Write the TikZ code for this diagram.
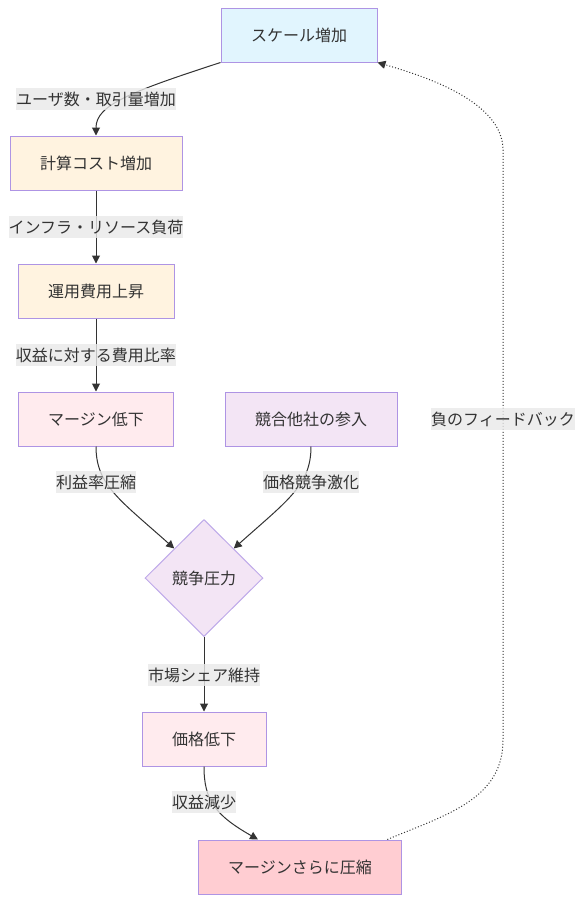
\documentclass[tikz,border=0pt]{standalone}
\usepackage{fontspec}
\setmainfont{Noto Sans CJK JP}
\usepackage{xcolor}
\definecolor{mcink}{HTML}{333333}
\definecolor{mcedge}{HTML}{333333}
\definecolor{mcrule}{HTML}{9370DB}
\definecolor{mclblbg}{HTML}{E8E8E8}
\definecolor{mcblue}{HTML}{E1F5FE}
\definecolor{mcorange}{HTML}{FFF3E0}
\definecolor{mcpink}{HTML}{FFEBEE}
\definecolor{mcviolet}{HTML}{F3E5F5}
\definecolor{mcred}{HTML}{FFCDD2}
\usepackage{tikz}
\usetikzlibrary{arrows.meta,calc,shapes.geometric}
\tikzset{
  mcbox/.style    ={rectangle, draw=mcrule!75, line width=1pt, minimum height=54pt,
                    inner xsep=30pt, inner ysep=0pt, text=mcink,
                    font=\fontsize{16pt}{19pt}\selectfont},
  mcscale/.style  ={mcbox, fill=mcblue},
  mccost/.style   ={mcbox, fill=mcorange},
  mcmargin/.style ={mcbox, fill=mcpink},
  mcrival/.style  ={mcbox, fill=mcviolet},
  mcsqueeze/.style={mcbox, fill=mcred},
  mcpress/.style  ={diamond, draw=mcrule!60, fill=mcviolet, line width=1pt,
                    minimum width=118pt, minimum height=117pt, inner sep=0pt,
                    text=mcink, font=\fontsize{16pt}{19pt}\selectfont},
  mcarrow/.style  ={-{Triangle[length=8pt,width=8pt]}, line width=1pt, draw=mcedge},
  mcloop/.style   ={mcarrow, dotted},
  mclbl/.style    ={fill=mclblbg, fill opacity=0.8, text opacity=1, text=mcink,
                    inner xsep=0pt, inner ysep=0pt, minimum height=22pt,
                    font=\fontsize{16pt}{19pt}\selectfont},
}
\begin{document}
\begin{tikzpicture}[x=1pt,y=-1pt]
  \useasboundingbox (0,0) rectangle (583,902);
  % chain on the left
  \node[mcscale]   (scale)   at (299,35)  {スケール増加};
  \node[mccost]    (compute) at (96,163)  {計算コスト増加};
  \node[mccost]    (opex)    at (96,291)  {運用費用上昇};
  \node[mcmargin]  (margin)  at (96,419)  {マージン低下};
  \node[mcrival]   (rivals)  at (311,419) {競合他社の参入};
  \node[mcpress]   (press)   at (204,578) {競争圧力};
  \node[mcmargin]  (price)   at (204,739) {価格低下};
  \node[mcsqueeze] (squeeze) at (300,867) {マージンさらに圧縮};

  \draw[mcarrow] (scale.south west) .. controls (130,92) and (96,105) .. (compute.north)
    node[mclbl] at (96,99) {ユーザ数・取引量増加};
  \draw[mcarrow] (compute) -- (opex)
    node[mclbl] at (96,227) {インフラ・リソース負荷};
  \draw[mcarrow] (opex) -- (margin)
    node[mclbl] at (96,355) {収益に対する費用比率};
  \draw[mcarrow] (margin.south) .. controls (96,485) and (120,500) .. (press.north west)
    node[mclbl] at (96,482) {利益率圧縮};
  \draw[mcarrow] (rivals.south) .. controls (311,485) and (288,500) .. (press.north east)
    node[mclbl] at (311,482) {価格競争激化};
  \draw[mcarrow] (press) -- (price)
    node[mclbl] at (204,675) {市場シェア維持};
  \draw[mcarrow] (price.south) .. controls (204,800) and (215,815) .. ($(squeeze.north)+(-42,0)$)
    node[mclbl] at (204,802) {収益減少};

  % feedback loop
  \draw[mcloop] ($(squeeze.north east)+(-15,0)$) .. controls (445,815) and (503,800) .. (503,740)
    -- (503,150) .. controls (503,100) and (420,75) .. (scale.south east)
    node[mclbl] at (503,419) {負のフィードバック};
\end{tikzpicture}
\end{document}
